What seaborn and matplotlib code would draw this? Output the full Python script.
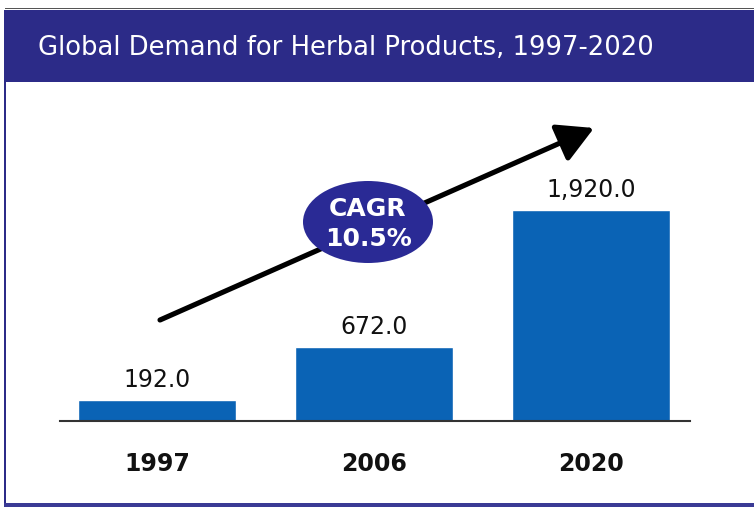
import matplotlib
matplotlib.use("Agg")
import matplotlib.pyplot as plt
import seaborn as sns
import pandas as pd
from matplotlib.patches import Rectangle, Ellipse, FancyArrowPatch

years = ["1997", "2006", "2020"]
demand = [192.0, 672.0, 1920.0]
title = "Global Demand for Herbal Products, 1997-2020"
cagr_text = "CAGR\n10.5%"

sns.set_theme(style="white")
plt.rcParams['font.family'] = ['DejaVu Sans']

W, H = 754, 517
fig = plt.figure(figsize=(W / 100, H / 100), dpi=100)
fig.patch.set_facecolor("white")

def fx(px):
    return px / W

def fy(py):
    return 1 - py / H

# axes: x from 60 to 690 px, y baseline 421 px, top 100 px
ax = fig.add_axes([fx(60), fy(421), fx(690) - fx(60), fy(100) - fy(421)])
df = pd.DataFrame({"year": years, "demand": demand})
sns.barplot(data=df, x="year", y="demand", color="#0a63b5", saturation=1,
            width=0.73, ax=ax)
ax.set_xlim(-0.447, 2.456)
ax.set_ylim(0, 321 / (211 / 1920))
for s in ["top", "right", "left"]:
    ax.spines[s].set_visible(False)
ax.spines["bottom"].set_color("#333333")
ax.spines["bottom"].set_linewidth(1.5)
ax.set_yticks([])
ax.set_xlabel("")
ax.set_ylabel("")
ax.tick_params(axis="x", length=0, pad=22, labelsize=17, labelcolor="#111111")
for lab in ax.get_xticklabels():
    lab.set_fontweight("semibold")
for i, v in enumerate(demand):
    ax.annotate(f"{v:,.1f}", (i, v), xytext=(0, 6), textcoords="offset points",
                ha="center", va="bottom", fontsize=17, color="#111111")
ax.patch.set_alpha(0)

# header band
fig.patches.append(Rectangle((fx(5), fy(82)), 1 - fx(5), fy(10) - fy(82),
                             transform=fig.transFigure, facecolor="#2c2b88",
                             edgecolor="none", zorder=0))
fig.patches.append(Rectangle((fx(5), fy(9)), 1 - fx(5), fy(8) - fy(9),
                             transform=fig.transFigure, facecolor="#555555",
                             edgecolor="none", zorder=0))
# left border & bottom border
fig.patches.append(Rectangle((fx(4), fy(507)), fx(2), fy(10) - fy(507),
                             transform=fig.transFigure, facecolor="#2c2b88",
                             edgecolor="none", zorder=0))
fig.patches.append(Rectangle((fx(4), fy(507)), 1 - fx(4), fy(503) - fy(507),
                             transform=fig.transFigure, facecolor="#3a3a95",
                             edgecolor="none", zorder=0))
fig.text(fx(38), fy(48), title, color="white", fontsize=18.6,
         ha="left", va="center")

# arrow
arrow = FancyArrowPatch((fx(160), fy(320)), (fx(594), fy(128)),
                        transform=fig.transFigure, arrowstyle="-|>,head_length=10,head_width=5.5",
                        mutation_scale=2.2, color="black", linewidth=3.7, zorder=5,
                        shrinkA=0, shrinkB=0)
fig.patches.append(arrow)
# ellipse
fig.patches.append(Ellipse((fx(368), fy(222)), fx(130), fy(0) - fy(82),
                           transform=fig.transFigure, facecolor="#2a2a95",
                           edgecolor="none", zorder=6))
fig.text(fx(368), fy(224), cagr_text, color="white", fontsize=18, fontweight="bold",
         ha="center", va="center", linespacing=1.3, zorder=7)

fig.savefig("out.png", dpi=100, facecolor="white")
